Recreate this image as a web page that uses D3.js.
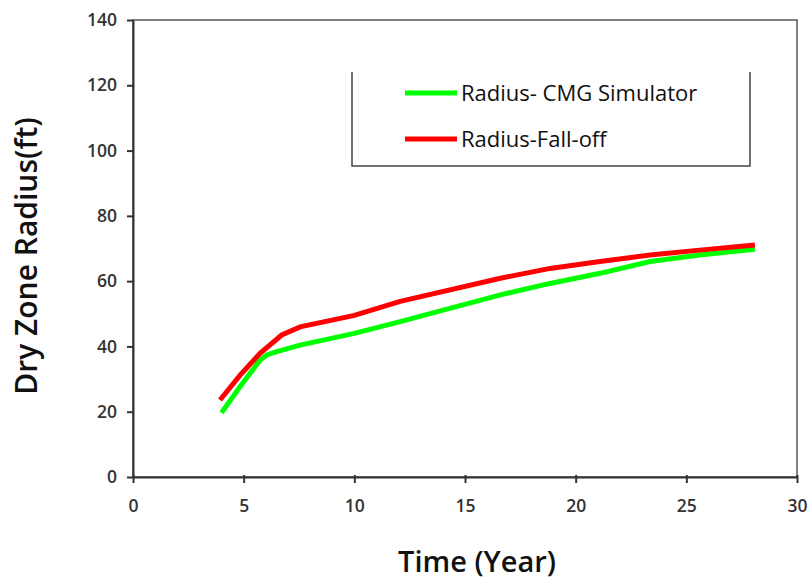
<!DOCTYPE html>
<html><head><meta charset="utf-8">
<script src="https://cdn.jsdelivr.net/npm/d3@7"></script>
<style>body{margin:0;background:#fff}</style>
</head><body>
<svg id="chart" width="809" height="584"></svg>
<script>
const seriesNames = ["Radius- CMG Simulator", "Radius-Fall-off"];
const seriesColors = ["#00ff00", "#ff0000"];
const cmgTime   = [4.0, 4.84, 5.74, 6.04, 6.5, 7.55, 10, 12.07, 16.6, 18.84, 21.1, 23.36, 25.6, 28.1];
const cmgRadius = [19.7, 27.7, 35.8, 37.4, 38.4, 40.4, 44, 47.6, 55.8, 59.3, 62.4, 66, 68, 69.8];
const fallTime   = [3.93, 4.84, 5.74, 6.72, 7.55, 10, 12.07, 16.6, 18.84, 21.1, 23.36, 25.6, 28.1];
const fallRadius = [23.6, 31.2, 37.9, 43.5, 46, 49.5, 53.8, 60.9, 63.9, 66, 68, 69.5, 71.1];
const xTicks = [0, 5, 10, 15, 20, 25, 30];
const yTicks = [0, 20, 40, 60, 80, 100, 120, 140];

const svg = d3.select("#chart");
const m = {left: 133, top: 20, right: 797, bottom: 477};
const x = d3.scaleLinear().domain([0, 30]).range([m.left, m.right]);
const y = d3.scaleLinear().domain([0, 140]).range([m.bottom, m.top]);
const font = "'Open Sans', sans-serif";

// plot box
svg.append("rect").attr("x", m.left).attr("y", m.top)
  .attr("width", m.right - m.left).attr("height", m.bottom - m.top)
  .attr("fill", "none").attr("stroke", "#555").attr("stroke-width", 1.5);

const xAxis = svg.append("g").attr("transform", `translate(0,${m.bottom})`)
  .call(d3.axisBottom(x).tickValues(xTicks).tickSize(6).tickSizeOuter(0));
const yAxis = svg.append("g").attr("transform", `translate(${m.left},0)`)
  .call(d3.axisLeft(y).tickValues(yTicks).tickSize(6).tickSizeOuter(0));
[xAxis, yAxis].forEach(a => {
  a.select(".domain").attr("stroke", "#333").attr("stroke-width", 2);
  a.selectAll(".tick line").attr("stroke", "#333").attr("stroke-width", 2);
  a.selectAll(".tick text").attr("font-family", font).attr("font-size", 17.5)
    .attr("font-weight", 600).attr("fill", "#333");
});
xAxis.selectAll(".tick line").attr("y2", 6).attr("y1", -2);
xAxis.selectAll(".tick text").attr("dy", "0.71em").attr("y", 23);
yAxis.selectAll(".tick text").attr("x", -16);

const line = d3.line().x(d => x(d[0])).y(d => y(d[1]));
const cmg = cmgTime.map((t, i) => [t, cmgRadius[i]]);
const fall = fallTime.map((t, i) => [t, fallRadius[i]]);
svg.append("path").datum(cmg).attr("d", line).attr("fill", "none")
  .attr("stroke", seriesColors[0]).attr("stroke-width", 5);
svg.append("path").datum(fall).attr("d", line).attr("fill", "none")
  .attr("stroke", seriesColors[1]).attr("stroke-width", 5);

// legend
svg.append("path").attr("d", "M352,72V166H750V72").attr("fill", "none")
  .attr("stroke", "#444").attr("stroke-width", 1.5);
const ly = [93, 139];
seriesNames.forEach((n, i) => {
  svg.append("line").attr("x1", 405).attr("x2", 457).attr("y1", ly[i]).attr("y2", ly[i])
    .attr("stroke", seriesColors[i]).attr("stroke-width", 5);
  svg.append("text").attr("x", 461).attr("y", ly[i] + 8).text(n)
    .attr("font-family", font).attr("font-size", 22).attr("fill", "#111");
});

svg.append("text").attr("x", 477).attr("y", 572).attr("text-anchor", "middle")
  .attr("font-family", font).attr("font-size", 29).attr("font-weight", 600).attr("fill", "#111")
  .text("Time (Year)");
svg.append("text").attr("transform", "translate(37,256) rotate(-90)").attr("text-anchor", "middle")
  .attr("font-family", font).attr("font-size", 30).attr("font-weight", 600).attr("fill", "#111")
  .text("Dry Zone Radius(ft)");
</script>
</body></html>
